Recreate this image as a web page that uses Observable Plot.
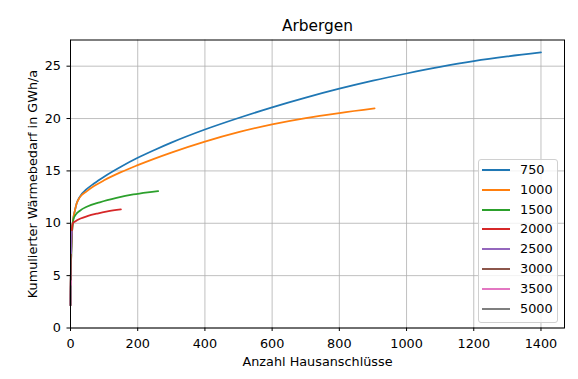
<!DOCTYPE html>
<html>
<head>
<meta charset="utf-8">
<script src="https://cdn.jsdelivr.net/npm/d3@7"></script>
<script src="https://cdn.jsdelivr.net/npm/@observablehq/plot@0.6"></script>
<style>
  html, body { margin: 0; padding: 0; background: white; }
  #wrap { position: relative; width: 578px; height: 379px; font-family: "DejaVu Sans", sans-serif; }
  #legend { position: absolute; left: 478px; top: 159px; width: 80px; height: 164px;
    border: 1px solid #d0d0d0; border-radius: 3px; background: rgba(255,255,255,0.8); box-sizing: border-box; }
  .row { position: absolute; left: 0; height: 20px; width: 100%; }
  .row .sw { position: absolute; left: 3px; top: 9px; width: 28px; height: 2px; }
  .row .lb { position: absolute; left: 41px; top: 2px; font-size: 12.8px; line-height: 16px; color: black; }
</style>
</head>
<body>
<div id="wrap"><div id="legend"></div></div>
<script>
const titel = "Arbergen";
const xLabel = "Anzahl Hausanschlüsse";
const yLabel = "Kumulierter Wärmebedarf in GWh/a";
const serien = ["750", "1000", "1500", "2000", "2500", "3000", "3500", "5000"];
const farben = ["#1f77b4", "#ff7f0e", "#2ca02c", "#d62728", "#9467bd", "#8c564b", "#e377c2", "#7f7f7f"];
const xTicks = [0, 200, 400, 600, 800, 1000, 1200, 1400];
const yTicks = [0, 5, 10, 15, 20, 25];

const x750 = [0, 1, 3, 6, 9, 13, 18, 28, 48, 70, 100, 150, 200, 250, 300, 400, 500, 600, 700, 800, 900, 1000, 1100, 1200, 1300, 1400];
const y750 = [2.2, 5, 8, 9.8, 10.6, 11.2, 11.86, 12.55, 13.25, 13.8, 14.45, 15.4, 16.25, 17.0, 17.7, 18.95, 20.05, 21.07, 22.0, 22.85, 23.62, 24.3, 24.93, 25.48, 25.93, 26.31];
const x1000 = [0, 1, 3, 6, 9, 13, 18, 28, 48, 70, 100, 150, 200, 300, 400, 500, 600, 700, 800, 905];
const y1000 = [2.2, 5, 8, 9.8, 10.6, 11.2, 11.86, 12.5, 13.05, 13.55, 14.1, 14.88, 15.55, 16.75, 17.8, 18.7, 19.44, 20.04, 20.52, 20.96];
const x1500 = [0, 1, 3, 6, 9, 15, 28, 50, 87, 137, 187, 230, 261];
const y1500 = [2.2, 5, 8, 9.8, 10.4, 10.8, 11.2, 11.6, 12.0, 12.42, 12.75, 12.95, 13.07];
const x2000 = [0, 1, 2, 4, 7, 15, 30, 50, 80, 110, 150];
const y2000 = [2.2, 5.0, 7.5, 9.3, 10.0, 10.2, 10.45, 10.68, 10.93, 11.13, 11.32];
const x2500 = [0, 1, 2, 4];
const y2500 = [2.2, 5, 7.5, 9.2];
const x3000 = [0, 1, 2];
const y3000 = [2.2, 5, 7];
const x3500 = [0, 1];
const y3500 = [2.2, 4.5];
const x5000 = [0, 1];
const y5000 = [2.2, 4];

const xs = [x750, x1000, x1500, x2000, x2500, x3000, x3500, x5000];
const ys = [y750, y1000, y1500, y2000, y2500, y3000, y3500, y5000];
const data = serien.flatMap((s, i) => xs[i].map((xv, j) => ({serie: s, x: xv, y: ys[i][j]})));

const gridStyle = {stroke: "#b0b0b0", strokeOpacity: 1, strokeWidth: 0.8};

const chart = Plot.plot({
  width: 578, height: 379,
  marginLeft: 70, marginRight: 14, marginTop: 39.5, marginBottom: 51.5,
  style: {fontFamily: "DejaVu Sans", fontSize: "12.8px", color: "black", background: "white"},
  x: {domain: [0, 1470], label: null},
  y: {domain: [0, 27.5], label: null},
  color: {domain: serien, range: farben},
  marks: [
    Plot.gridX(xTicks, gridStyle),
    Plot.gridY(yTicks, gridStyle),
    Plot.line(data, {x: "x", y: "y", z: "serie", stroke: "serie", strokeWidth: 1.75, curve: "monotone-x"}),
    Plot.frame({stroke: "black", strokeWidth: 1}),
    Plot.axisX(xTicks, {tickSize: 3.5, tickPadding: 7.5, label: null, fontSize: 12.8, tickFormat: d => String(d)}),
    Plot.axisY(yTicks, {tickSize: 3.5, tickPadding: 6, label: null, fontSize: 12.8, tickFormat: d => String(d)}),
    Plot.text([titel], {frameAnchor: "top", lineAnchor: "middle", dy: -13.5, fontSize: 15.4}),
    Plot.text([xLabel], {frameAnchor: "bottom", lineAnchor: "middle", dy: 33.5, fontSize: 12.8}),
    Plot.text([yLabel], {frameAnchor: "left", lineAnchor: "middle", dx: -38, rotate: -90, textAnchor: "middle", fontSize: 12.8})
  ]
});
const wrap = document.getElementById("wrap");
wrap.insertBefore(chart, wrap.firstChild);

const legend = document.getElementById("legend");
serien.forEach((s, i) => {
  const row = document.createElement("div");
  row.className = "row";
  row.style.top = (i * 19.8) + "px";
  const sw = document.createElement("div");
  sw.className = "sw";
  sw.style.background = farben[i];
  const lb = document.createElement("div");
  lb.className = "lb";
  lb.textContent = s;
  row.appendChild(sw); row.appendChild(lb);
  legend.appendChild(row);
});
</script>
</body>
</html>
